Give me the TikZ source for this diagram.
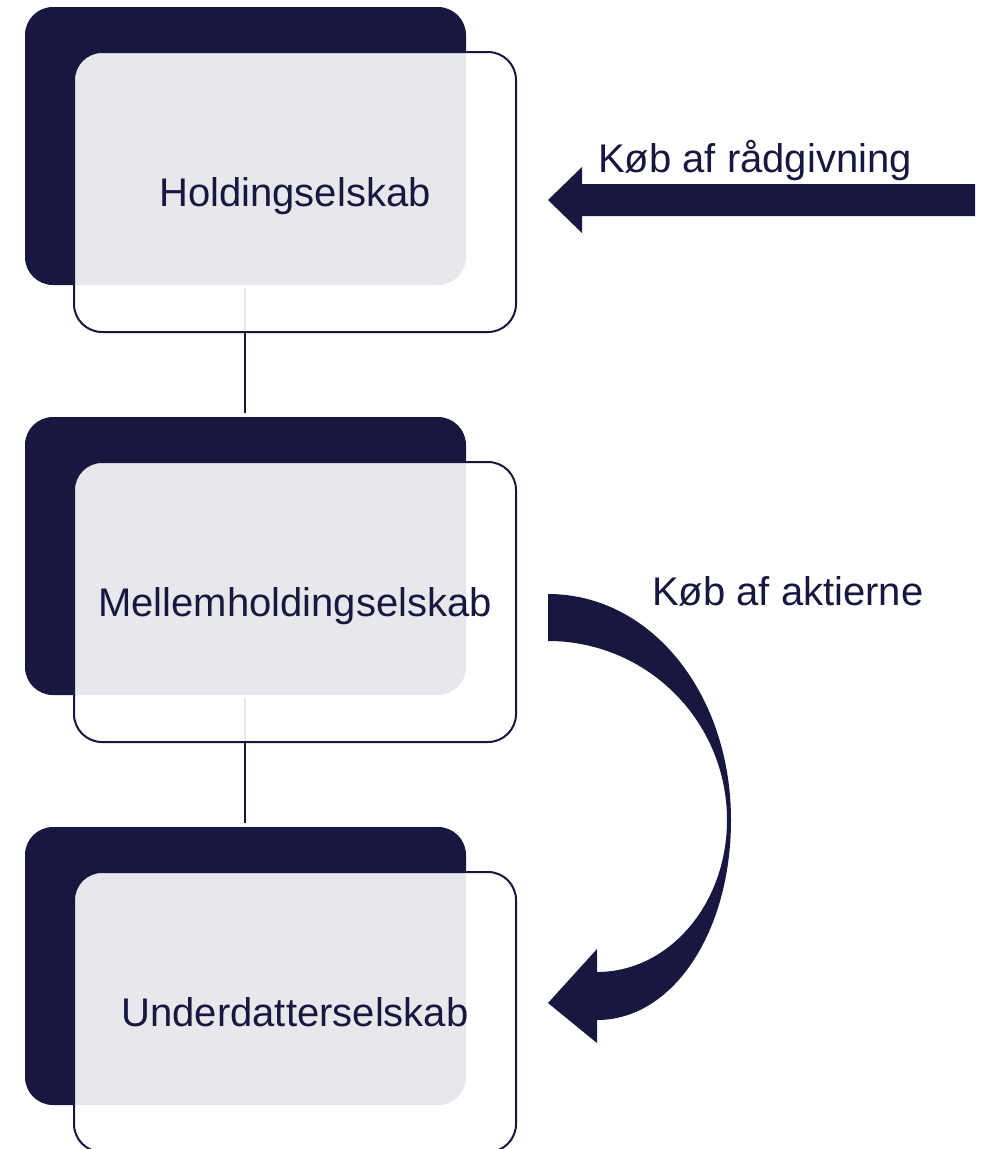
\documentclass[tikz,border=0pt]{standalone}
\usepackage{fontspec}
\setmainfont{Liberation Sans}
\definecolor{navy}{RGB}{23,23,63}
\begin{document}
\begin{tikzpicture}[x=1pt,y=-1pt,
  backbox/.style={fill=navy,rounded corners=28pt},
  frontbox/.style={draw=navy,line width=2pt,fill=white,fill opacity=0.9,rounded corners=28pt},
  link/.style={draw=navy,line width=2.2pt},
  lbl/.style={text=navy,font=\fontsize{40}{40}\selectfont,anchor=base,inner sep=0pt},
  arrowfill/.style={fill=navy}]
\useasboundingbox (0,0) rectangle (982,1149);
% dark back panels
\foreach \i/\dy in {1/0,2/410,3/820}{
  \path[backbox] (25,7+\dy) rectangle (466,285+\dy);
}
% vertical links between the levels
\coordinate (l1a) at (245,288);
\coordinate (l1b) at (245,413);
\coordinate (l2a) at (245,698);
\coordinate (l2b) at (245,823);
\draw[link] (l1a) -- (l1b);
\draw[link] (l2a) -- (l2b);
% translucent front panels
\foreach \i/\dy in {1/0,2/410,3/820}{
  \path[frontbox] (74,52+\dy) rectangle (516,332+\dy);
}
% labels
\node[lbl] (hold) at (295,206) {Holdingselskab};
\node[lbl] (mell) at (295,616) {Mellemholdingselskab};
\node[lbl] (under) at (295,1026) {Underdatterselskab};
\node[lbl,anchor=base west] (raad) at (598,172) {Køb af rådgivning};
\node[lbl,anchor=base west] (akt) at (652,605) {Køb af aktierne};
% straight block arrow
\path[arrowfill] (975,184) -- (582,184) -- (582,167) -- (548,200) -- (582,233) -- (582,216) -- (975,216) -- cycle;
% curved block arrow
\path[arrowfill] (548,594) .. controls (652,594) and (731,695) .. (731,820)
  .. controls (731,932) and (673,1020) .. (597,1020)
  -- (597,1043) -- (548,1003) -- (597,949) -- (597,972)
  .. controls (669,972) and (727,904) .. (727,820)
  .. controls (727,721) and (647,641) .. (548,641) -- cycle;
\end{tikzpicture}
\end{document}
